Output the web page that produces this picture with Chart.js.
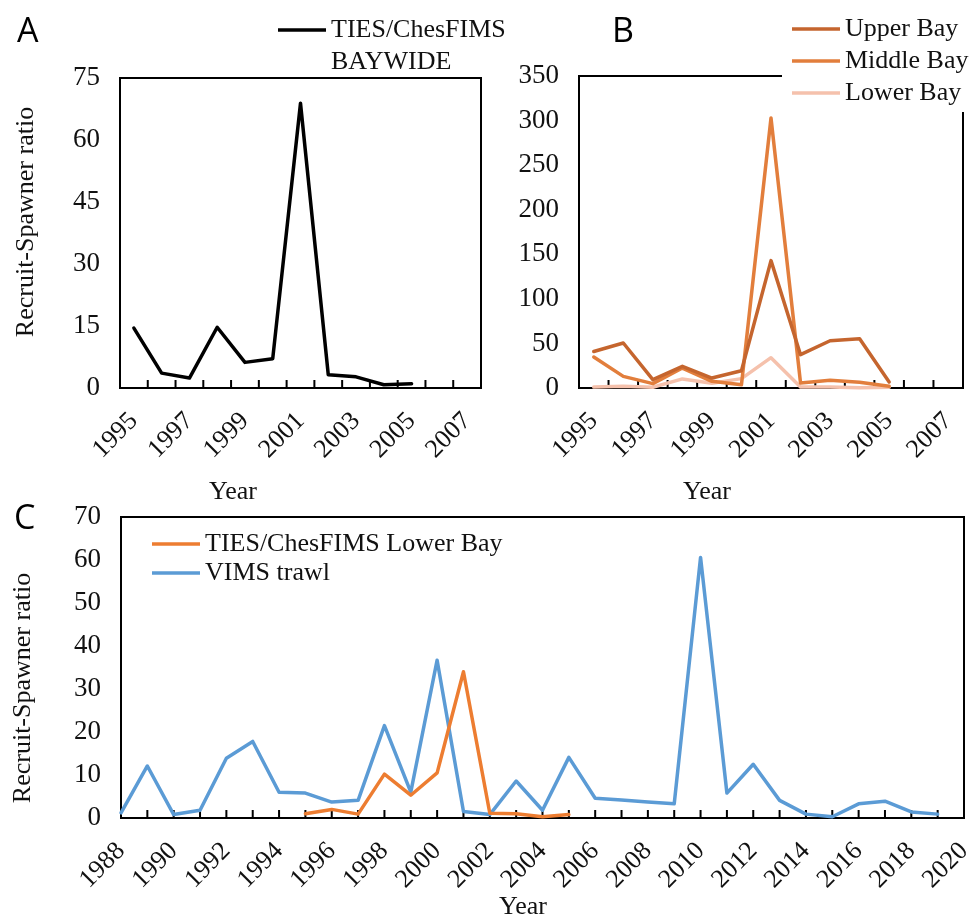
<!DOCTYPE html>
<html>
<head>
<meta charset="utf-8">
<script src="https://cdn.jsdelivr.net/npm/chart.js@4.4.1/dist/chart.umd.min.js"></script>
<style>
  html, body { margin: 0; padding: 0; background: #fff; }
  #wrap { position: relative; width: 973px; height: 917px; }
  #wrap canvas { position: absolute; left: 0; top: 0; }
</style>
</head>
<body>
<div id="wrap">
  <canvas id="chartA" width="973" height="917"></canvas>
  <canvas id="chartB" width="973" height="917"></canvas>
  <canvas id="chartC" width="973" height="917"></canvas>
</div>
<script>
const yearsAB = ['1995', '1996', '1997', '1998', '1999', '2000', '2001', '2002', '2003', '2004', '2005', '2006', '2007'];
const baywide = [14.5, 3.6, 2.4, 14.7, 6.2, 7.1, 68.9, 3.2, 2.7, 0.8, 1.0, null, null];
const upperBay = [41.0, 50.5, 9.3, 24.3, 11.2, 19.4, 142.9, 37.4, 53.0, 55.3, 6.7, null, null];
const middleBay = [34.8, 13.0, 4.9, 22.4, 7.5, 3.7, 302.9, 5.6, 8.6, 6.4, 1.9, null, null];
const lowerBay = [1.0, 2.0, 0.9, 10.2, 5.3, 10.5, 34.0, 1.1, 1.0, 0.3, 0.8, null, null];

const yearsC = ['1988', '1989', '1990', '1991', '1992', '1993', '1994', '1995', '1996', '1997', '1998',
  '1999', '2000', '2001', '2002', '2003', '2004', '2005', '2006', '2007', '2008', '2009', '2010',
  '2011', '2012', '2013', '2014', '2015', '2016', '2017', '2018', '2019', '2020'];
const vimsTrawl = [1.2, 12.1, 0.8, 1.8, 13.9, 17.8, 6.0, 5.8, 3.7, 4.1, 21.5, 6.0, 36.7, 1.5, 0.8,
  8.6, 1.8, 14.1, 4.6, 4.2, 3.7, 3.3, 60.6, 5.8, 12.5, 4.1, 0.9, 0.3, 3.3, 3.9, 1.4, 0.9, null];

const serif = '"Liberation Serif", "Times New Roman", serif';
Chart.defaults.font.family = serif;
Chart.defaults.font.size = 26;
Chart.defaults.color = '#111';

// frame, inward year ticks, legend, panel letter and axis titles
const panelDecor = {
  id: 'panelDecor',
  beforeDatasetsDraw(chart) {
    const { ctx, chartArea: a } = chart;
    const x = chart.scales.x;
    ctx.save();
    ctx.strokeStyle = '#000';
    ctx.lineWidth = 2;
    ctx.strokeRect(a.left, a.top, a.right - a.left, a.bottom - a.top);
    const n = x.ticks.length;
    ctx.beginPath();
    for (let i = 0; i < n; i++) {
      let px;
      if (x.options.offset) {
        if (i === n - 1) break;
        px = (x.getPixelForTick(i) + x.getPixelForTick(i + 1)) / 2;
      } else {
        if (i === 0 || i === n - 1) continue;
        px = x.getPixelForTick(i);
      }
      ctx.moveTo(px, a.bottom);
      ctx.lineTo(px, a.bottom - 8);
    }
    ctx.stroke();
    ctx.restore();
  },
  afterDraw(chart, args, opts) {
    const { ctx } = chart;
    const lg = opts.legend;
    ctx.save();
    if (lg.cover) {
      ctx.fillStyle = '#fff';
      ctx.fillRect(lg.cover[0], lg.cover[1], lg.cover[2], lg.cover[3]);
    }
    ctx.font = '26px ' + serif;
    ctx.fillStyle = '#111';
    ctx.textAlign = 'left';
    ctx.textBaseline = 'middle';
    let y = lg.y;
    chart.data.datasets.forEach(ds => {
      ctx.strokeStyle = ds.borderColor;
      ctx.lineWidth = 3.5;
      ctx.beginPath();
      ctx.moveTo(lg.x0, y);
      ctx.lineTo(lg.x1, y);
      ctx.stroke();
      ds.label.split('\n').forEach(line => {
        ctx.fillText(line, lg.tx, y);
        y += lg.step;
      });
    });

    ctx.textBaseline = 'alphabetic';
    ctx.font = '34px "Open Sans", sans-serif';
    ctx.fillStyle = '#000';
    ctx.fillText(opts.letter[0], opts.letter[1], opts.letter[2]);

    ctx.font = '26px ' + serif;
    ctx.fillStyle = '#111';
    ctx.textAlign = 'center';
    ctx.fillText(opts.xTitle[0], opts.xTitle[1], opts.xTitle[2]);
    if (opts.yTitle) {
      ctx.translate(opts.yTitle[1], opts.yTitle[2]);
      ctx.rotate(-Math.PI / 2);
      ctx.fillText(opts.yTitle[0], 0, 0);
    }
    ctx.restore();
  }
};

function xAxis(offset) {
  return {
    type: 'category',
    offset: offset,
    grid: { display: false, drawTicks: false },
    border: { display: false },
    ticks: {
      autoSkip: false,
      minRotation: 45,
      maxRotation: 45,
      padding: 18,
      callback(value, index) {
        return index % 2 === 0 ? this.getLabelForValue(value) : '';
      }
    },
    afterFit(s) {
      s.height = 80;
      s.paddingLeft = 0;
      s.paddingRight = 0;
    }
  };
}

function yAxis(max, step) {
  return {
    min: 0,
    max: max,
    grid: { display: false, drawTicks: false },
    border: { display: false },
    ticks: { stepSize: step, padding: 20, font: { size: 27 } },
    afterFit(s) { s.width = 60; }
  };
}

function line(label, data, color) {
  return {
    label: label,
    data: data,
    borderColor: color,
    backgroundColor: color,
    borderWidth: 3.5,
    pointRadius: 0,
    tension: 0,
    borderJoinStyle: 'round',
    borderCapStyle: 'round',
    clip: false
  };
}

const base = {
  responsive: false,
  animation: false,
  events: []
};

new Chart(document.getElementById('chartA'), {
  type: 'line',
  data: {
    labels: yearsAB,
    datasets: [line('TIES/ChesFIMS\nBAYWIDE', baywide, '#000000')]
  },
  options: {
    ...base,
    layout: { padding: { left: 60, top: 78, right: 492, bottom: 449 } },
    scales: { x: xAxis(true), y: yAxis(75, 15) },
    plugins: {
      legend: { display: false },
      tooltip: { enabled: false },
      panelDecor: {
        letter: ['A', 17, 42],
        xTitle: ['Year', 233, 499],
        yTitle: ['Recruit-Spawner ratio', 33, 222],
        legend: { x0: 278, x1: 326, tx: 331, y: 30, step: 32 }
      }
    }
  },
  plugins: [panelDecor]
});

new Chart(document.getElementById('chartB'), {
  type: 'line',
  data: {
    labels: yearsAB,
    datasets: [
      line('Upper Bay', upperBay, '#C5652E'),
      line('Middle Bay', middleBay, '#E27E3C'),
      line('Lower Bay', lowerBay, '#F5C1AC')
    ]
  },
  options: {
    ...base,
    layout: { padding: { left: 519, top: 76, right: 10, bottom: 449 } },
    scales: { x: xAxis(true), y: yAxis(350, 50) },
    plugins: {
      legend: { display: false },
      tooltip: { enabled: false },
      panelDecor: {
        letter: ['B', 612, 42],
        xTitle: ['Year', 707, 499],
        legend: { x0: 792, x1: 840, tx: 845, y: 29, step: 32, cover: [782, 0, 191, 112] }
      }
    }
  },
  plugins: [panelDecor]
});

new Chart(document.getElementById('chartC'), {
  type: 'line',
  data: {
    labels: yearsC,
    datasets: [
      line('TIES/ChesFIMS Lower Bay', lowerBay.map((v, i) => ({ x: yearsAB[i], y: v })), '#ED7D31'),
      line('VIMS trawl', vimsTrawl, '#5B9BD5')
    ]
  },
  options: {
    ...base,
    layout: { padding: { left: 61, top: 517, right: 9, bottom: 19 } },
    scales: { x: xAxis(false), y: yAxis(70, 10) },
    plugins: {
      legend: { display: false },
      tooltip: { enabled: false },
      panelDecor: {
        letter: ['C', 14, 529],
        xTitle: ['Year', 523, 914],
        yTitle: ['Recruit-Spawner ratio', 30, 688],
        legend: { x0: 152, x1: 200, tx: 205, y: 544, step: 29 }
      }
    }
  },
  plugins: [panelDecor]
});
</script>
</body>
</html>
